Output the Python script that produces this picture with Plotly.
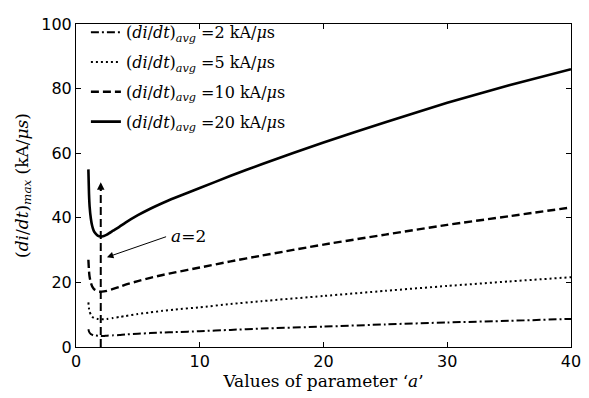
import plotly.graph_objects as go

a_vals = [1, 1.05, 1.1, 1.2, 1.3, 1.4, 1.5, 1.75, 2, 2.25, 2.5, 3, 3.5, 4, 5, 6, 7, 8, 10, 12.5, 15, 20, 25, 30, 35, 40]
y_avg20 = [55.0, 47.5, 43.5, 39.8, 37.6, 36.3, 35.5, 34.5, 34.2, 34.4, 34.8, 36.0, 37.2, 38.5, 40.8, 42.8, 44.6, 46.2, 49.2, 53.0, 56.6, 63.3, 69.6, 75.6, 81.0, 86.0]
y_avg10 = [27.0, 23.6, 21.7, 19.9, 18.8, 18.2, 17.8, 17.3, 17.1, 17.2, 17.4, 18.0, 18.6, 19.3, 20.4, 21.4, 22.3, 23.1, 24.6, 26.5, 28.3, 31.7, 34.8, 37.8, 40.5, 43.2]
y_avg5 = [13.8, 11.9, 10.9, 10.0, 9.4, 9.1, 8.9, 8.7, 8.6, 8.6, 8.7, 9.0, 9.3, 9.6, 10.2, 10.7, 11.2, 11.6, 12.3, 13.3, 14.2, 15.8, 17.4, 18.9, 20.3, 21.6]
y_avg2 = [5.5, 4.8, 4.4, 4.0, 3.8, 3.6, 3.6, 3.5, 3.4, 3.4, 3.5, 3.6, 3.7, 3.9, 4.1, 4.3, 4.5, 4.6, 4.9, 5.3, 5.7, 6.3, 7.0, 7.6, 8.1, 8.7]

series_names = ["2", "5", "10", "20"]
series_vals = [y_avg2, y_avg5, y_avg10, y_avg20]
dashes = ["8px,3px,2px,3px", "2px,3px", "8px,4px", "solid"]
widths = [2, 2, 2.4, 2.6]

a_marker = 2
marker_top = 51

x_ticks = [0, 10, 20, 30, 40]
y_ticks = [0, 20, 40, 60, 80, 100]

serif = "DejaVu Serif"
sans = "DejaVu Sans"

fig = go.Figure()
for i, (nm, ys) in enumerate(zip(series_names, series_vals)):
    fig.add_trace(go.Scatter(
        x=a_vals, y=ys, mode="lines",
        name=f"(<i>di</i>/<i>dt</i>)<sub><i>avg</i></sub> ={nm} kA/<i>μ</i>s",
        line=dict(color="black", width=widths[i], dash=dashes[i], shape="spline", smoothing=0.6),
        legendgroup=f"g{i}",
    ))

fig.add_trace(go.Scatter(
    x=[a_marker, a_marker], y=[0, marker_top - 2], mode="lines",
    line=dict(color="black", width=2, dash="8px,4px"), showlegend=False,
))
fig.add_annotation(x=a_marker, y=marker_top, ax=a_marker, ay=marker_top - 3,
                   xref="x", yref="y", axref="x", ayref="y", text="",
                   showarrow=True, arrowhead=2, arrowsize=1, arrowwidth=1.5, arrowcolor="black")
fig.add_annotation(x=2.5, y=27.8, ax=7.4, ay=34.3,
                   xref="x", yref="y", axref="x", ayref="y", text="",
                   showarrow=True, arrowhead=2, arrowsize=1.3, arrowwidth=1, arrowcolor="black")
fig.add_annotation(x=7.5, y=34.3, xref="x", yref="y", text="<i>a</i>=2",
                   showarrow=False, xanchor="left", yanchor="middle",
                   font=dict(family=serif, size=17, color="black"))

fig.update_layout(
    width=581, height=390,
    margin=dict(l=68, r=18, t=7, b=51),
    plot_bgcolor="white", paper_bgcolor="white",
    showlegend=True,
    legend=dict(x=0.02, y=1.027, xanchor="left", yanchor="top",
                bgcolor="rgba(0,0,0,0)", font=dict(family=serif, size=16, color="black"),
                tracegroupgap=6, itemwidth=30),
    xaxis=dict(range=[0, 40], tickvals=x_ticks, ticks="inside", ticklen=5, tickcolor="black",
               showline=True, linecolor="black", linewidth=1, mirror="ticks", showgrid=False,
               zeroline=False, tickfont=dict(family=sans, size=16, color="black"),
               ticklabeloverflow="allow",
               title=dict(text="Values of parameter ‘<i>a</i>’", standoff=4,
                          font=dict(family=serif, size=17, color="black"))),
    yaxis=dict(range=[0, 100], tickvals=y_ticks, ticks="inside", ticklen=5, tickcolor="black",
               showline=True, linecolor="black", linewidth=1, mirror="ticks", showgrid=False,
               zeroline=False, tickfont=dict(family=sans, size=16, color="black"),
               ticklabeloverflow="allow",
               title=dict(text="(<i>di</i>/<i>dt</i>)<sub><i>max</i></sub> (kA/<i>μs</i>)", standoff=8,
                          font=dict(family=serif, size=17, color="black"))),
)

fig.write_html("out.html")
